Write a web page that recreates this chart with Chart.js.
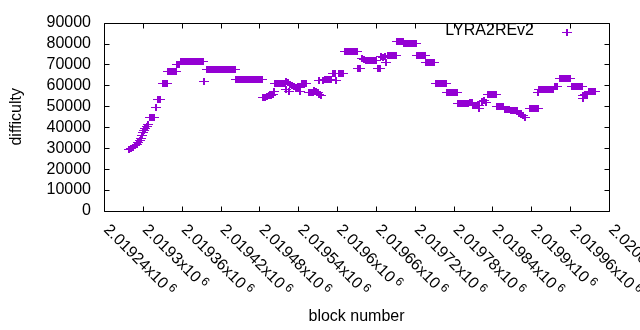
<!DOCTYPE html>
<html>
<head>
<meta charset="utf-8">
<script src="https://cdn.jsdelivr.net/npm/chart.js@4.4.1/dist/chart.umd.min.js"></script>
<style>
  html, body { margin: 0; padding: 0; background: #fff; }
  canvas { display: block; }
</style>
</head>
<body>
<canvas id="difficultyChart" width="640" height="330"></canvas>
<script>
// block heights (x) and difficulty (y)
var blocks = [
  2019279, 2019282, 2019285, 2019288, 2019291, 2019293, 2019296, 2019297, 2019299, 2019300, 2019302, 2019304, 2019306, 2019308,
  2019311, 2019314, 2019317, 2019320, 2019323, 2019326, 2019331, 2019334, 2019337,
  2019339, 2019342, 2019345, 2019348, 2019351, 2019353, 2019356,
  2019359, 2019362, 2019365, 2019368, 2019371, 2019374, 2019377, 2019381, 2019384, 2019387, 2019390, 2019393, 2019395,
  2019399, 2019402, 2019405, 2019408, 2019411, 2019414, 2019418, 2019421, 2019424, 2019427, 2019430, 2019433, 2019436, 2019439, 2019442,
  2019444, 2019447, 2019450, 2019453, 2019456, 2019459, 2019462, 2019465, 2019468, 2019472, 2019475, 2019478, 2019481, 2019484,
  2019486, 2019489, 2019492, 2019495, 2019498, 2019501, 2019503,
  2019504, 2019507, 2019510, 2019513, 2019516, 2019520, 2019521, 2019524,
  2019527, 2019530, 2019533, 2019521, 2019526,
  2019537, 2019540, 2019543, 2019546, 2019549, 2019552, 2019543,
  2019557, 2019560, 2019563, 2019564, 2019567, 2019570, 2019572, 2019575, 2019572,
  2019578, 2019581, 2019584, 2019588, 2019591, 2019599,
  2019594, 2019597, 2019603, 2019606, 2019609,
  2019612, 2019615, 2019618, 2019622, 2019625, 2019628, 2019631,
  2019632, 2019635, 2019639, 2019642,
  2019645, 2019648, 2019651, 2019654, 2019657, 2019660,
  2019663, 2019666, 2019668, 2019671, 2019674, 2019676,
  2019679, 2019682, 2019685, 2019688, 2019691,
  2019693, 2019696, 2019699, 2019702,
  2019703, 2019706, 2019710, 2019713, 2019716, 2019719, 2019722,
  2019723, 2019727, 2019730, 2019733, 2019736,
  2019737, 2019740, 2019744, 2019747, 2019750,
  2019753, 2019756, 2019759, 2019762, 2019765, 2019768,
  2019770, 2019773, 2019776, 2019779, 2019782, 2019785,
  2019787, 2019790, 2019793, 2019796, 2019799, 2019802,
  2019805, 2019808, 2019810, 2019813, 2019816, 2019819, 2019819,
  2019824, 2019827, 2019830,
  2019833, 2019836, 2019839, 2019842, 2019845,
  2019847, 2019850, 2019853, 2019856,
  2019859, 2019862, 2019866,
  2019869, 2019872, 2019875, 2019878,
  2019881, 2019884, 2019887, 2019890,
  2019898, 2019901, 2019904, 2019907, 2019910, 2019910,
  2019912, 2019915, 2019918, 2019921, 2019924, 2019927, 2019930, 2019934,
  2019937, 2019940,
  2019944, 2019947, 2019950, 2019954, 2019957, 2019960,
  2019963, 2019966, 2019969, 2019972, 2019975, 2019978,
  2019980, 2019983, 2019986, 2019980,
  2019989, 2019992, 2019995, 2019998
];
var difficulty = [
  29300, 29770, 30230, 31170, 31880, 32810, 33750, 34690, 36090, 37500, 38440, 39380, 40310, 41480,
  44770, 44770, 44770, 49220, 53200, 53200, 60700, 60700, 60700,
  66800, 66800, 66800, 66800, 66800, 70080, 70080,
  71480, 71480, 71480, 71480, 71480, 71480, 71480, 71480, 71480, 71480, 71480, 71480, 61640,
  67360, 67360, 67360, 67360, 67360, 67360, 67360, 67360, 67360, 67360, 67360, 67360, 67360, 67360, 67360,
  62580, 62580, 62580, 63050, 63050, 63050, 63050, 63050, 63050, 63050, 63050, 63050, 63050, 63050,
  54140, 54380, 54610, 55080, 55310, 55550, 57190,
  60700, 60700, 60700, 60700, 60700, 60700, 61640, 61410,
  60230, 59770, 59300, 58270, 57050,
  58830, 58830, 58830, 60700, 60700, 60700, 57050,
  56720, 56720, 56720, 57420, 56950, 56720, 55550, 55310, 62340,
  62110, 62580, 63050, 63050, 63050, 62200,
  65860, 65860, 65860, 65860, 65860,
  76170, 76170, 76170, 76170, 76170, 76170, 76170,
  68200, 68200, 72660, 72420,
  71950, 71950, 71950, 71950, 71950, 71950,
  68200, 68200, 73590, 73360, 73590, 70780,
  74300, 74300, 74300, 74300, 74300,
  80860, 80860, 80860, 80860,
  79920, 79920, 79920, 79920, 79920, 79920, 79920,
  74300, 74300, 74300, 74300, 74300,
  71020, 71020, 71020, 71020, 71020,
  60940, 60940, 60940, 60940, 60940, 60940,
  56720, 56720, 56720, 56720, 56720, 56720,
  51330, 51330, 51330, 51330, 51330, 51330,
  52030, 52030, 50390, 50390, 50390, 50390, 48750,
  52270, 52970, 51800,
  55550, 55550, 55550, 55550, 55550,
  49920, 49920, 49920, 49920,
  48520, 48520, 48520,
  47810, 47810, 47810, 47810,
  46640, 46170, 45700, 44770,
  48980, 48980, 48980, 48980, 48980, 56390,
  57890, 57890, 57890, 57890, 57890, 57890, 57890, 57890,
  59300, 59300,
  63520, 63520, 63520, 63520, 63520, 63520,
  59300, 59300, 59300, 59300, 59300, 59300,
  55310, 55550, 55780, 53910,
  57190, 57190, 57190, 57190
];
var seriesLabel = 'LYRA2REv2';

// axis ranges / tick steps
var xMin = 2019240, xMax = 2020020, xStep = 60;
var yMin = 0, yMax = 90000, yStep = 10000;

var violet = '#9400d3';
var font = '"Liberation Sans", Arial, sans-serif';

// gnuplot style "+" marker, pixel aligned
var mark = document.createElement('canvas');
mark.width = 10; mark.height = 7;
var m = mark.getContext('2d');
m.fillStyle = violet;
m.fillRect(0, 3, 10, 1);
m.fillRect(4, 0, 2, 7);

var points = blocks.map(function (b, i) { return { x: b, y: difficulty[i] }; });

// frame, inward tics, rotated x labels and key, drawn gnuplot-like
var frame = {
  id: 'frame',
  beforeDatasetsDraw: function (chart) {
    chart.ctx.imageSmoothingEnabled = false;
  },
  afterDraw: function (chart) {
    var ctx = chart.ctx, a = chart.chartArea;
    var xs = chart.scales.x, ys = chart.scales.y;
    var L = Math.round(a.left) + 0.5, R = Math.round(a.right) + 0.5;
    var T = Math.round(a.top) + 0.5, B = Math.round(a.bottom) + 0.5;
    var tl = 5;
    ctx.save();
    ctx.strokeStyle = '#000';
    ctx.lineWidth = 1;
    ctx.beginPath();
    ctx.rect(L, T, R - L, B - T);
    xs.ticks.forEach(function (t) {
      var px = Math.round(xs.getPixelForValue(t.value)) + 0.5;
      ctx.moveTo(px, B); ctx.lineTo(px, B - tl);
      ctx.moveTo(px, T); ctx.lineTo(px, T + tl);
    });
    ys.ticks.forEach(function (t) {
      var py = Math.round(ys.getPixelForValue(t.value)) + 0.5;
      ctx.moveTo(L, py); ctx.lineTo(L + tl, py);
      ctx.moveTo(R, py); ctx.lineTo(R - tl, py);
    });
    ctx.stroke();

    ctx.fillStyle = '#000';
    xs.ticks.forEach(function (t) {
      var px = xs.getPixelForValue(t.value);
      var txt = String(+(t.value / 1e6).toFixed(5)) + 'x10';
      ctx.save();
      ctx.translate(px - 1, a.bottom + 19.5);
      ctx.rotate(Math.PI / 4);
      ctx.font = '16px ' + font;
      ctx.textAlign = 'left';
      ctx.textBaseline = 'alphabetic';
      ctx.fillText(txt, 0, 0);
      var w = ctx.measureText(txt).width;
      ctx.font = '12px ' + font;
      ctx.fillText('6', w + 3, -5);
      ctx.restore();
    });

    // key, top right inside the frame
    ctx.imageSmoothingEnabled = false;
    ctx.font = '16px ' + font;
    ctx.textAlign = 'right';
    ctx.textBaseline = 'middle';
    ctx.fillText(chart.data.datasets[0].label, 534, 31);
    ctx.drawImage(mark, 562, 29);
    ctx.restore();
  }
};

new Chart(document.getElementById('difficultyChart'), {
  type: 'scatter',
  data: {
    datasets: [{
      label: seriesLabel,
      data: points,
      pointStyle: mark,
      pointRadius: 4,
      pointHoverRadius: 4,
      showLine: false
    }]
  },
  options: {
    responsive: false,
    animation: false,
    events: [],
    layout: { padding: { top: 19, right: 31, left: 0, bottom: 0 } },
    plugins: {
      legend: { display: false },
      tooltip: { enabled: false }
    },
    scales: {
      x: {
        type: 'linear',
        min: xMin, max: xMax,
        ticks: { stepSize: xStep, display: false, autoSkip: false },
        grid: { display: false, drawTicks: false },
        border: { display: false },
        title: {
          display: true, text: 'block number', color: '#000',
          font: { family: font, size: 16 }, padding: { bottom: 4 }
        },
        afterFit: function (s) { s.height = 119; }
      },
      y: {
        min: yMin, max: yMax,
        ticks: {
          stepSize: yStep, color: '#000', padding: 13, autoSkip: false,
          font: { family: font, size: 16 },
          callback: function (v) { return String(v); }
        },
        grid: { display: false, drawTicks: false },
        border: { display: false },
        title: {
          display: true, text: 'difficulty', color: '#000',
          font: { family: font, size: 16 }, padding: { top: 7 }
        },
        afterFit: function (s) { s.width = 104; }
      }
    }
  },
  plugins: [frame]
});
</script>
</body>
</html>
